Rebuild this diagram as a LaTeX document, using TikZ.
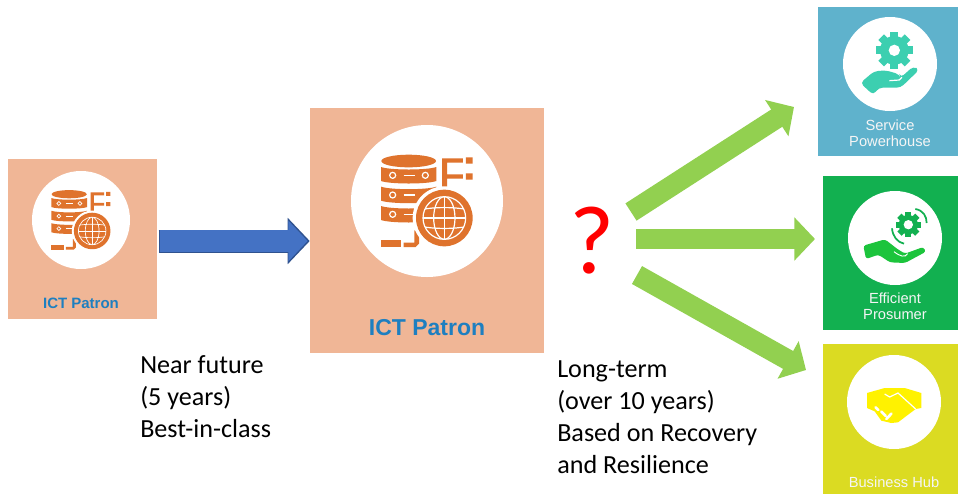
\documentclass[tikz,border=0pt]{standalone}
\usepackage{fontspec}
\setmainfont{Carlito}
\newfontfamily\tilefont{Liberation Sans}
\usetikzlibrary{arrows.meta}

\definecolor{tilepeach}{HTML}{F0B696}
\definecolor{tileblue}{HTML}{5FB2CC}
\definecolor{tilegreen}{HTML}{12B050}
\definecolor{tileyellow}{HTML}{DBDB22}
\definecolor{iconorange}{HTML}{DF732D}
\definecolor{iconteal}{HTML}{3CCFB0}
\definecolor{iconlime}{HTML}{1CC43C}
\definecolor{patronblue}{HTML}{1E7FC0}
\definecolor{arrowblue}{HTML}{4472C4}
\definecolor{arrowedge}{HTML}{2F528F}
\definecolor{arrowgreen}{HTML}{92D050}

\def\Patron{ICT Patron}

\tikzset{
  tile/.style n args={3}{fill=#1,inner sep=0pt,minimum width=#2*0.75pt,minimum height=#3*0.75pt},
  disc/.style={fill=white,circle,inner sep=0pt,minimum size=#1*1.5pt},
  tilelabel/.style={font=\tilefont\fontsize{11}{12}\selectfont,text=white!92!gray,align=center,inner sep=0pt},
  patronlabel/.style={font=\tilefont\bfseries\fontsize{#1}{#1}\selectfont,text=patronblue,inner sep=0pt},
  timelabel/.style={font=\fontsize{19.6}{24}\selectfont,align=left,anchor=north west,inner sep=0pt},
  greenflow/.style={draw=arrowgreen,line width=15.4pt,-{Triangle[length=15.4pt,width=31.5pt]}},
  % database and globe, drawn in 3x pixels round the disc centre
  patron icon/.pic={
    \begin{scope}[shift={(-260,-272)}]
      \fill[iconorange] (205,152) ellipse [x radius=82,y radius=19];
      \foreach \y in {170,229,287} {
        \fill[iconorange] (122,\y) .. controls (150,\y+10) and (260,\y+10) .. (288,\y)
          -- (288,\y+42) .. controls (260,\y+52) and (150,\y+52) .. (122,\y+42) -- cycle;
        \draw[white] (157,\y+25) circle (9);
        \draw[white] (190,\y+25) -- (224,\y+25);
      }
      \draw[white] (255,195) circle (9);
      % F shape
      \fill[iconorange] (305,144) rectangle (368,157) (305,192) rectangle (368,205) (305,144) rectangle (320,232);
      \fill[iconorange] (377,141) rectangle (397,160) (377,189) rectangle (397,208);
      % cables
      \fill[iconorange] (122,390) rectangle (183,410);
      \fill[iconorange] (190,397) -- (222,397) -- (222,360) -- (236,360) -- (236,400) -- (226,410) -- (190,410) -- cycle;
      % globe
      \fill[white] (312,323) circle (95);
      \fill[iconorange] (312,323) circle (85);
      \draw[white] (312,323) circle (64);
      \begin{scope}
        \clip (312,323) circle (64);
        \draw[white] (312,323) ellipse [x radius=32,y radius=64];
        \draw[white] (248,323) -- (376,323) (312,259) -- (312,387);
        \draw[white] (248,297) .. controls (280,290) and (344,290) .. (376,297);
        \draw[white] (248,349) .. controls (280,356) and (344,356) .. (376,349);
      \end{scope}
    \end{scope}
  },
}

\begin{document}
\begin{tikzpicture}[x=0.75pt,y=-0.75pt]
\useasboundingbox (0,0) rectangle (958,494);

% Tiles
\node[tile={tilepeach}{149}{160}] (near tile) at (82.5,239) {};
\node[tile={tilepeach}{234}{245}] (long tile) at (427,230.5) {};
\node[tile={tileblue}{140}{149}] (service tile) at (888,81.5) {};
\node[tile={tilegreen}{135.5}{154}] (prosumer tile) at (890.25,253) {};
\node[tile={tileyellow}{135.5}{150}] (hub tile) at (890.25,419) {};

% Discs
\node[disc=49] (near disc) at (81,220) {};
\node[disc=76] (long disc) at (427,201) {};
\node[disc=47] (service disc) at (890,64) {};
\node[disc=47] (prosumer disc) at (895,238) {};
\node[disc=47] (hub disc) at (894,402) {};

% Patron icons
\pic[scale=0.215,line width=0.5pt] at (near disc) {patron icon};
\pic[scale=0.3333,line width=0.9pt] at (long disc) {patron icon};

% Service icon
\begin{scope}[shift={(service disc)},scale=0.3333,shift={(-240,-191)}]
  \foreach \a in {0,45,...,315}
    \fill[iconteal,shift={(253,150)},rotate=\a] (-12,-30) rectangle (12,-56);
  \fill[iconteal] (253,150) circle (43);
  \fill[white] (253,150) circle (17);
  \fill[iconteal,rounded corners=3pt] (151,248) -- (192,213) -- (228,210) -- (268,222) -- (272,232)
    -- (310,198) -- (328,208) -- (272,262) -- (206,262) -- (190,284) -- cycle;
  \draw[white,line width=0.9pt] (238,241) -- (268,239) -- (276,231);
\end{scope}

% Prosumer icon
\begin{scope}[shift={(prosumer disc)},scale=0.3333,shift={(-255,-205)}]
  \foreach \a in {0,45,...,315}
    \fill[tilegreen,shift={(295,165)},rotate=\a] (-9,-25) rectangle (9,-38);
  \fill[tilegreen] (295,165) circle (29);
  \fill[white] (295,165) circle (14);
  \draw[tilegreen,line width=1.3pt] (316,118) .. controls (340,122) and (350,140) .. (350,160);
  \draw[tilegreen,line width=1.3pt] (246,176) .. controls (248,200) and (262,218) .. (282,222);
  \fill[iconlime,rounded corners=2pt] (160,228) -- (225,209) -- (262,238) -- (285,252) -- (340,232)
    -- (348,246) -- (285,280) -- (240,278) -- (205,255) -- (168,268) -- cycle;
  \draw[white,line width=0.7pt] (252,246) .. controls (270,260) and (285,265) .. (293,252);
\end{scope}

% Hub icon
\begin{scope}[shift={(hub disc)},scale=0.3333,shift={(-253,-187)}]
  \fill[yellow] (172,160) -- (225,145) -- (285,145) -- (335,160) -- (335,205) -- (318,208)
    -- (265,248) -- (245,250) -- (215,243) -- (195,215) -- (172,205) -- cycle;
  \draw[white,line width=0.9pt] (225,163) -- (240,172) -- (265,160) -- (318,208);
  \draw[white,line width=2pt,line cap=round] (198,203) -- (206,211) (215,216) -- (228,229) (230,238) -- (245,222);
\end{scope}

% Tile labels
\node[patronlabel=11.25] (near label) at (81,303) {\Patron};
\node[patronlabel=17.25] (long label) at (427,328) {\Patron};
\node[tilelabel] (service label) at (890,133) {Service\\Powerhouse};
\node[tilelabel] (prosumer label) at (895,306) {Efficient\\Prosumer};
\node[tilelabel] (hub label) at (894,482) {Business Hub};

% Question mark
\node[font=\fontsize{73}{73}\selectfont,text=red,inner sep=0pt] (unknown) at (592,241) {?};

% Horizon texts
\node[timelabel] (near text) at (140,355) {Near future\\(5 years)\\Best-in-class};
\node[timelabel] (long text) at (557,360) {Long-term\\(over 10 years)\\Based on Recovery\\and Resilience};

% Flow from near to long
\coordinate (near start) at ([xshift=1pt,yshift=-1.5pt]near tile.east);
\draw[draw=arrowedge,line width=17.25pt,-{Triangle[length=16.5pt,width=33.75pt]}]
  (near start) -- (long tile.west |- near start);
\draw[draw=arrowblue,line width=16pt,-{Triangle[length=14.5pt,width=29.8pt]}]
  ([xshift=1.1pt]near start) -- ([xshift=-1.6pt]long tile.west |- near start);

% Flows to the three futures
\coordinate (service start) at (631,212);
\coordinate (service end) at (794,107);
\coordinate (prosumer start) at (636,239);
\coordinate (prosumer end) at (815,239);
\coordinate (hub start) at (637,275);
\coordinate (hub end) at (806,370);
\draw[greenflow] (service start) -- (service end);
\draw[greenflow] (prosumer start) -- (prosumer end);
\draw[greenflow] (hub start) -- (hub end);

\end{tikzpicture}
\end{document}
